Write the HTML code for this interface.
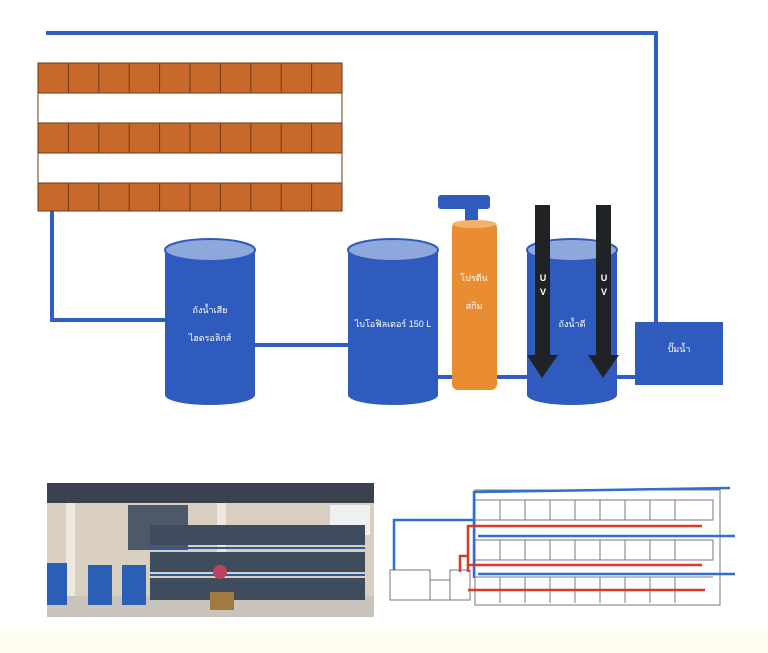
<!DOCTYPE html>
<html><head><meta charset="utf-8"><style>body{margin:0;background:#fff}svg{display:block}text{font-family:"Liberation Sans","Noto Sans CJK SC",sans-serif}</style></head><body>
<svg width="768" height="653" viewBox="0 0 768 653" xmlns="http://www.w3.org/2000/svg">
<rect width="768" height="653" fill="#fff"/>
<rect x="0" y="632" width="768" height="21" fill="#fefcec"/>
<g fill="none" stroke="#2f5fc4" stroke-width="4">
<polyline points="46,33 656,33 656,323"/>
<polyline points="52,192 52,320 166,320"/>
<line x1="254" y1="345" x2="350" y2="345"/>
<line x1="436" y1="377" x2="454" y2="377"/>
<line x1="496" y1="377" x2="530" y2="377"/>
<line x1="615" y1="377" x2="636" y2="377"/>
</g>
<g stroke="#6b3a12" stroke-width="1">
<rect x="38" y="63" width="304" height="30" fill="#c8682a"/>
<rect x="38" y="93" width="304" height="30" fill="#fff"/>
<rect x="38" y="123" width="304" height="30" fill="#c8682a"/>
<rect x="38" y="153" width="304" height="30" fill="#fff"/>
<rect x="38" y="183" width="304" height="28" fill="#c8682a"/>
<path d="M68.4 63v30M98.8 63v30M129.2 63v30M159.6 63v30M190 63v30M220.4 63v30M250.8 63v30M281.2 63v30M311.6 63v30M68.4 123v30M98.8 123v30M129.2 123v30M159.6 123v30M190 123v30M220.4 123v30M250.8 123v30M281.2 123v30M311.6 123v30M68.4 183v28M98.8 183v28M129.2 183v28M159.6 183v28M190 183v28M220.4 183v28M250.8 183v28M281.2 183v28M311.6 183v28"/>
</g>
<g fill="#2f5bbf">
<rect x="165" y="250" width="90" height="145"/><ellipse cx="210" cy="395" rx="45" ry="10"/><ellipse cx="210" cy="250" rx="45" ry="11" fill="#8fa8dc" stroke="#2f5bbf" stroke-width="2"/>
<rect x="348" y="250" width="90" height="145"/><ellipse cx="393" cy="395" rx="45" ry="10"/><ellipse cx="393" cy="250" rx="45" ry="11" fill="#8fa8dc" stroke="#2f5bbf" stroke-width="2"/>
<rect x="527" y="250" width="90" height="145"/><ellipse cx="572" cy="395" rx="45" ry="10"/><ellipse cx="572" cy="250" rx="45" ry="11" fill="#8fa8dc" stroke="#2f5bbf" stroke-width="2"/>
<rect x="635" y="322" width="88" height="63"/>
<rect x="465" y="205" width="13" height="20"/>
<rect x="438" y="195" width="52" height="14" rx="3"/>
</g>
<rect x="452" y="222" width="45" height="168" rx="6" fill="#ea8d32"/>
<ellipse cx="474.5" cy="224" rx="22" ry="4" fill="#f2b26a"/>
<g fill="#202325">
<rect x="535" y="205" width="15" height="150"/><polygon points="527,355 558,355 542,378"/>
<rect x="596" y="205" width="15" height="150"/><polygon points="588,355 619,355 603,378"/>
</g>
<g fill="#fff" font-size="9" text-anchor="middle">
<text x="210" y="313">ถังน้ำเสีย</text><text x="210" y="341">ไฮดรอลิกส์</text>
<text x="393" y="327">ไบโอฟิลเตอร์ 150 L</text>
<text x="474" y="281">โปรตีน</text><text x="474" y="309">สกิม</text>
<text x="572" y="327">ถังน้ำดี</text>
<text x="679" y="352">ปั๊มน้ำ</text>
<text x="543" y="281" font-weight="bold">U</text><text x="543" y="295" font-weight="bold">V</text>
<text x="604" y="281" font-weight="bold">U</text><text x="604" y="295" font-weight="bold">V</text>
</g>
<!-- photo -->
<rect x="47" y="483" width="327" height="134" fill="#d9cfc0"/>
<rect x="47" y="483" width="327" height="20" fill="#3c4150"/>
<rect x="330" y="505" width="40" height="30" fill="#eef0f2"/>
<rect x="128" y="505" width="60" height="45" fill="#4d5868"/>
<rect x="66" y="503" width="9" height="107" fill="#ece8e0"/>
<rect x="217" y="503" width="9" height="107" fill="#ece8e0"/>
<rect x="47" y="596" width="327" height="21" fill="#c9c4bb"/>
<rect x="47" y="563" width="20" height="42" fill="#2a5fb5"/><rect x="88" y="565" width="24" height="40" fill="#2a5fb5"/><rect x="122" y="565" width="24" height="40" fill="#2a5fb5"/>
<g fill="#3f4c5e"><rect x="150" y="525" width="215" height="20"/><rect x="150" y="552" width="215" height="20"/><rect x="150" y="578" width="215" height="22"/></g>
<g stroke="#2d5a9e" stroke-width="2"><line x1="150" y1="548" x2="365" y2="548"/><line x1="150" y1="575" x2="365" y2="575"/></g>
<circle cx="220" cy="572" r="7" fill="#c04060"/><rect x="210" y="592" width="24" height="18" fill="#a07a40"/>
<!-- schematic -->
<g fill="none" stroke="#777" stroke-width="1">
<rect x="475" y="490" width="245" height="115"/>
<path d="M475 500h238v20H475M475 540h238v20H475M475 577h238M390 570h40v30h-40zM430 580h20v20h-20zM450 570h20v30h-20z"/>
<path d="M500 500v20M525 500v20M550 500v20M575 500v20M600 500v20M625 500v20M650 500v20M675 500v20M500 540v20M525 540v20M550 540v20M575 540v20M600 540v20M625 540v20M650 540v20M675 540v20M500 577v26M525 577v26M550 577v26M575 577v26M600 577v26M625 577v26M650 577v26M675 577v26"/>
</g>
<g fill="none" stroke="#2f6fd0" stroke-width="2.5">
<polyline points="394,570 394,520 474,520 474,492 730,488"/>
<line x1="478" y1="536" x2="735" y2="536"/><line x1="478" y1="574" x2="735" y2="574"/>
<line x1="474" y1="520" x2="474" y2="578"/>
</g>
<g fill="none" stroke="#d83a2a" stroke-width="2.5">
<polyline points="468,572 468,526 702,526"/><polyline points="460,572 460,556 468,556"/>
<line x1="468" y1="565" x2="702" y2="565"/><line x1="468" y1="590" x2="705" y2="590"/>
</g>
</svg>
</body></html>
